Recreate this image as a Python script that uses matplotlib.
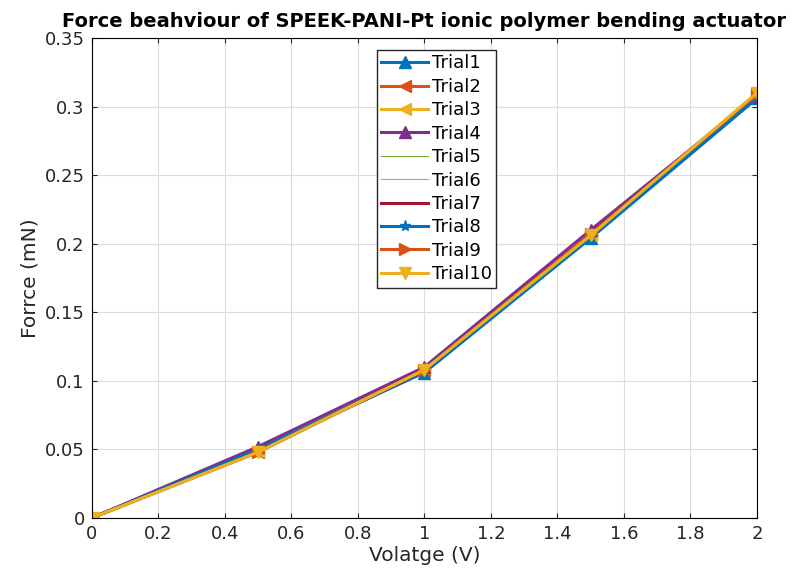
import numpy as np
import matplotlib.pyplot as plt

# Voltage (V) and force (mN) for each trial
voltage = [0, 0.5, 1, 1.5, 2]
trial1 = [0, 0.050, 0.106, 0.204, 0.306]
trial2 = [0, 0.048, 0.108, 0.207, 0.309]
trial3 = [0, 0.049, 0.109, 0.206, 0.310]
trial4 = [0, 0.052, 0.110, 0.210, 0.308]
trial5 = [0, 0.050, 0.108, 0.207, 0.308]
trial6 = [0, 0.050, 0.108, 0.207, 0.308]
trial7 = [0, 0.049, 0.107, 0.207, 0.308]
trial8 = [0, 0.050, 0.107, 0.205, 0.307]
trial9 = [0, 0.048, 0.108, 0.207, 0.309]
trial10 = [0, 0.048, 0.108, 0.206, 0.310]

labels = ['Trial%d' % i for i in range(1, 11)]
series = [trial1, trial2, trial3, trial4, trial5, trial6, trial7, trial8, trial9, trial10]
colors = ['#0072BD', '#D95319', '#EDB120', '#7E2F8E', '#77AC30', '#4DBEEE',
          '#A2142F', '#0072BD', '#D95319', '#EDB120']
markers = ['^', '<', '<', '^', None, None, None, '*', '>', 'v']
widths = [2.2, 2.2, 2.2, 2.2, 0.8, 0.8, 2.2, 2.2, 2.2, 2.2]

fig = plt.figure(figsize=(7.95, 5.77), dpi=100)
ax = fig.add_axes([0.1153, 0.1023, 0.8369, 0.8319])

for y, lab, c, m, w in zip(series, labels, colors, markers, widths):
    ax.plot(voltage, y, color=c, marker=m, markersize=8, linewidth=w, label=lab)

ax.set_xlim(0, 2)
ax.set_ylim(0, 0.35)
ax.set_xticks(np.arange(0, 2.01, 0.2))
ax.set_xticklabels(['0', '0.2', '0.4', '0.6', '0.8', '1', '1.2', '1.4', '1.6', '1.8', '2'])
ax.set_yticks(np.arange(0, 0.351, 0.05))
ax.set_yticklabels(['0', '0.05', '0.1', '0.15', '0.2', '0.25', '0.3', '0.35'])
ax.tick_params(direction='in', labelsize=13, colors='#262626', top=True, right=True, pad=5)
ax.grid(True, color='#dcdcdc', linewidth=0.8)
ax.set_axisbelow(True)

ax.set_xlabel('Volatge (V)', fontsize=14.5, color='#262626', labelpad=2)
ax.set_ylabel('Forrce (mN)', fontsize=14.5, color='#262626', labelpad=4)
ax.set_title('Force beahviour of SPEEK-PANI-Pt ionic polymer bending actuator',
             fontsize=14, fontweight='bold', pad=8)

ax.legend(loc='upper center', bbox_to_anchor=(0.518, 0.975), fontsize=13,
          fancybox=False, edgecolor='#262626', framealpha=1,
          handlelength=2.6, labelspacing=0.3, borderpad=0.25, handletextpad=0.2,
          borderaxespad=0)

fig.savefig('out.png', dpi=100)
